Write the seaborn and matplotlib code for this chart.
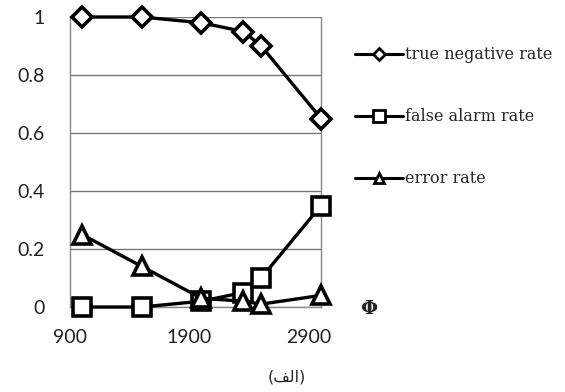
import matplotlib
matplotlib.use("Agg")
import matplotlib.pyplot as plt
import seaborn as sns
from matplotlib.lines import Line2D

phi = [1000, 1500, 2000, 2350, 2500, 3000]
true_negative_rate = [1.0, 1.0, 0.98, 0.95, 0.90, 0.65]
false_alarm_rate = [0.0, 0.0, 0.02, 0.05, 0.10, 0.35]
error_rate = [0.25, 0.14, 0.03, 0.02, 0.01, 0.04]
series_names = ["true negative rate", "false alarm rate", "error rate"]
x_ticks = [900, 1900, 2900]
y_ticks = [0, 0.2, 0.4, 0.6, 0.8, 1]
y_tick_labels = ["0", "0.2", "0.4", "0.6", "0.8", "1"]
x_symbol = "Φ"
caption = "(\uFED2\uFEDF\uFE8D)"  # (الف) in display form

sns.set_theme(style="white")
plt.rcParams["font.family"] = ["Lato", "DejaVu Sans"]

fig = plt.figure(figsize=(5.65, 3.92), dpi=100)
ax = fig.add_axes([70 / 565, 1 - 307 / 392, (321 - 70) / 565, (307 - 17) / 392])

series = [true_negative_rate, false_alarm_rate, error_rate]
markers = ["D", "s", "^"]
msizes = [10, 13, 13]
for vals, m, ms in zip(series, markers, msizes):
    sns.lineplot(x=phi, y=vals, ax=ax, color="black", linewidth=2.4,
                 marker=m, markersize=ms, markerfacecolor="white",
                 markeredgecolor="black", markeredgewidth=2.6,
                 clip_on=False, zorder=5)

ax.set_xlim(900, 3000)
ax.set_ylim(0, 1)
ax.set_xticks(x_ticks)
ax.set_xticklabels([str(t) for t in x_ticks])
ax.set_yticks(y_ticks)
ax.set_yticklabels(y_tick_labels)
ax.yaxis.grid(True, color="#777777", linewidth=1)
ax.xaxis.grid(False)
for side in ["left", "right", "bottom"]:
    ax.spines[side].set_visible(True)
    ax.spines[side].set_color("#888888")
    ax.spines[side].set_linewidth(1)
ax.spines["top"].set_visible(False)
ax.tick_params(axis="both", length=0, labelsize=14, colors="#222222")
ax.tick_params(axis="y", pad=18)
ax.tick_params(axis="x", pad=16)
ax.set_xlabel("")
ax.set_ylabel("")

handles = [Line2D([0], [0], color="black", linewidth=2.2, marker=m,
                  markersize=s, markerfacecolor="white", markeredgecolor="black",
                  markeredgewidth=2)
           for m, s in zip(markers, [6, 8, 7])]
fig.legend(handles, series_names, loc="upper left",
           bbox_to_anchor=(349 / 565, 1 - 40 / 392), frameon=False,
           prop={"family": "DejaVu Serif", "size": 11.5},
           handlelength=3.0, handletextpad=0.1, labelspacing=2.82,
           borderaxespad=0)

fig.text(369 / 565, 1 - 309 / 392, x_symbol, ha="center", va="center",
         fontsize=14, fontweight="bold", family=["DejaVu Serif"])
fig.text(287 / 565, 1 - 377 / 392, caption, ha="center", va="center",
         fontsize=11.5, family=["DejaVu Sans"])

fig.savefig("out.png", dpi=100)
